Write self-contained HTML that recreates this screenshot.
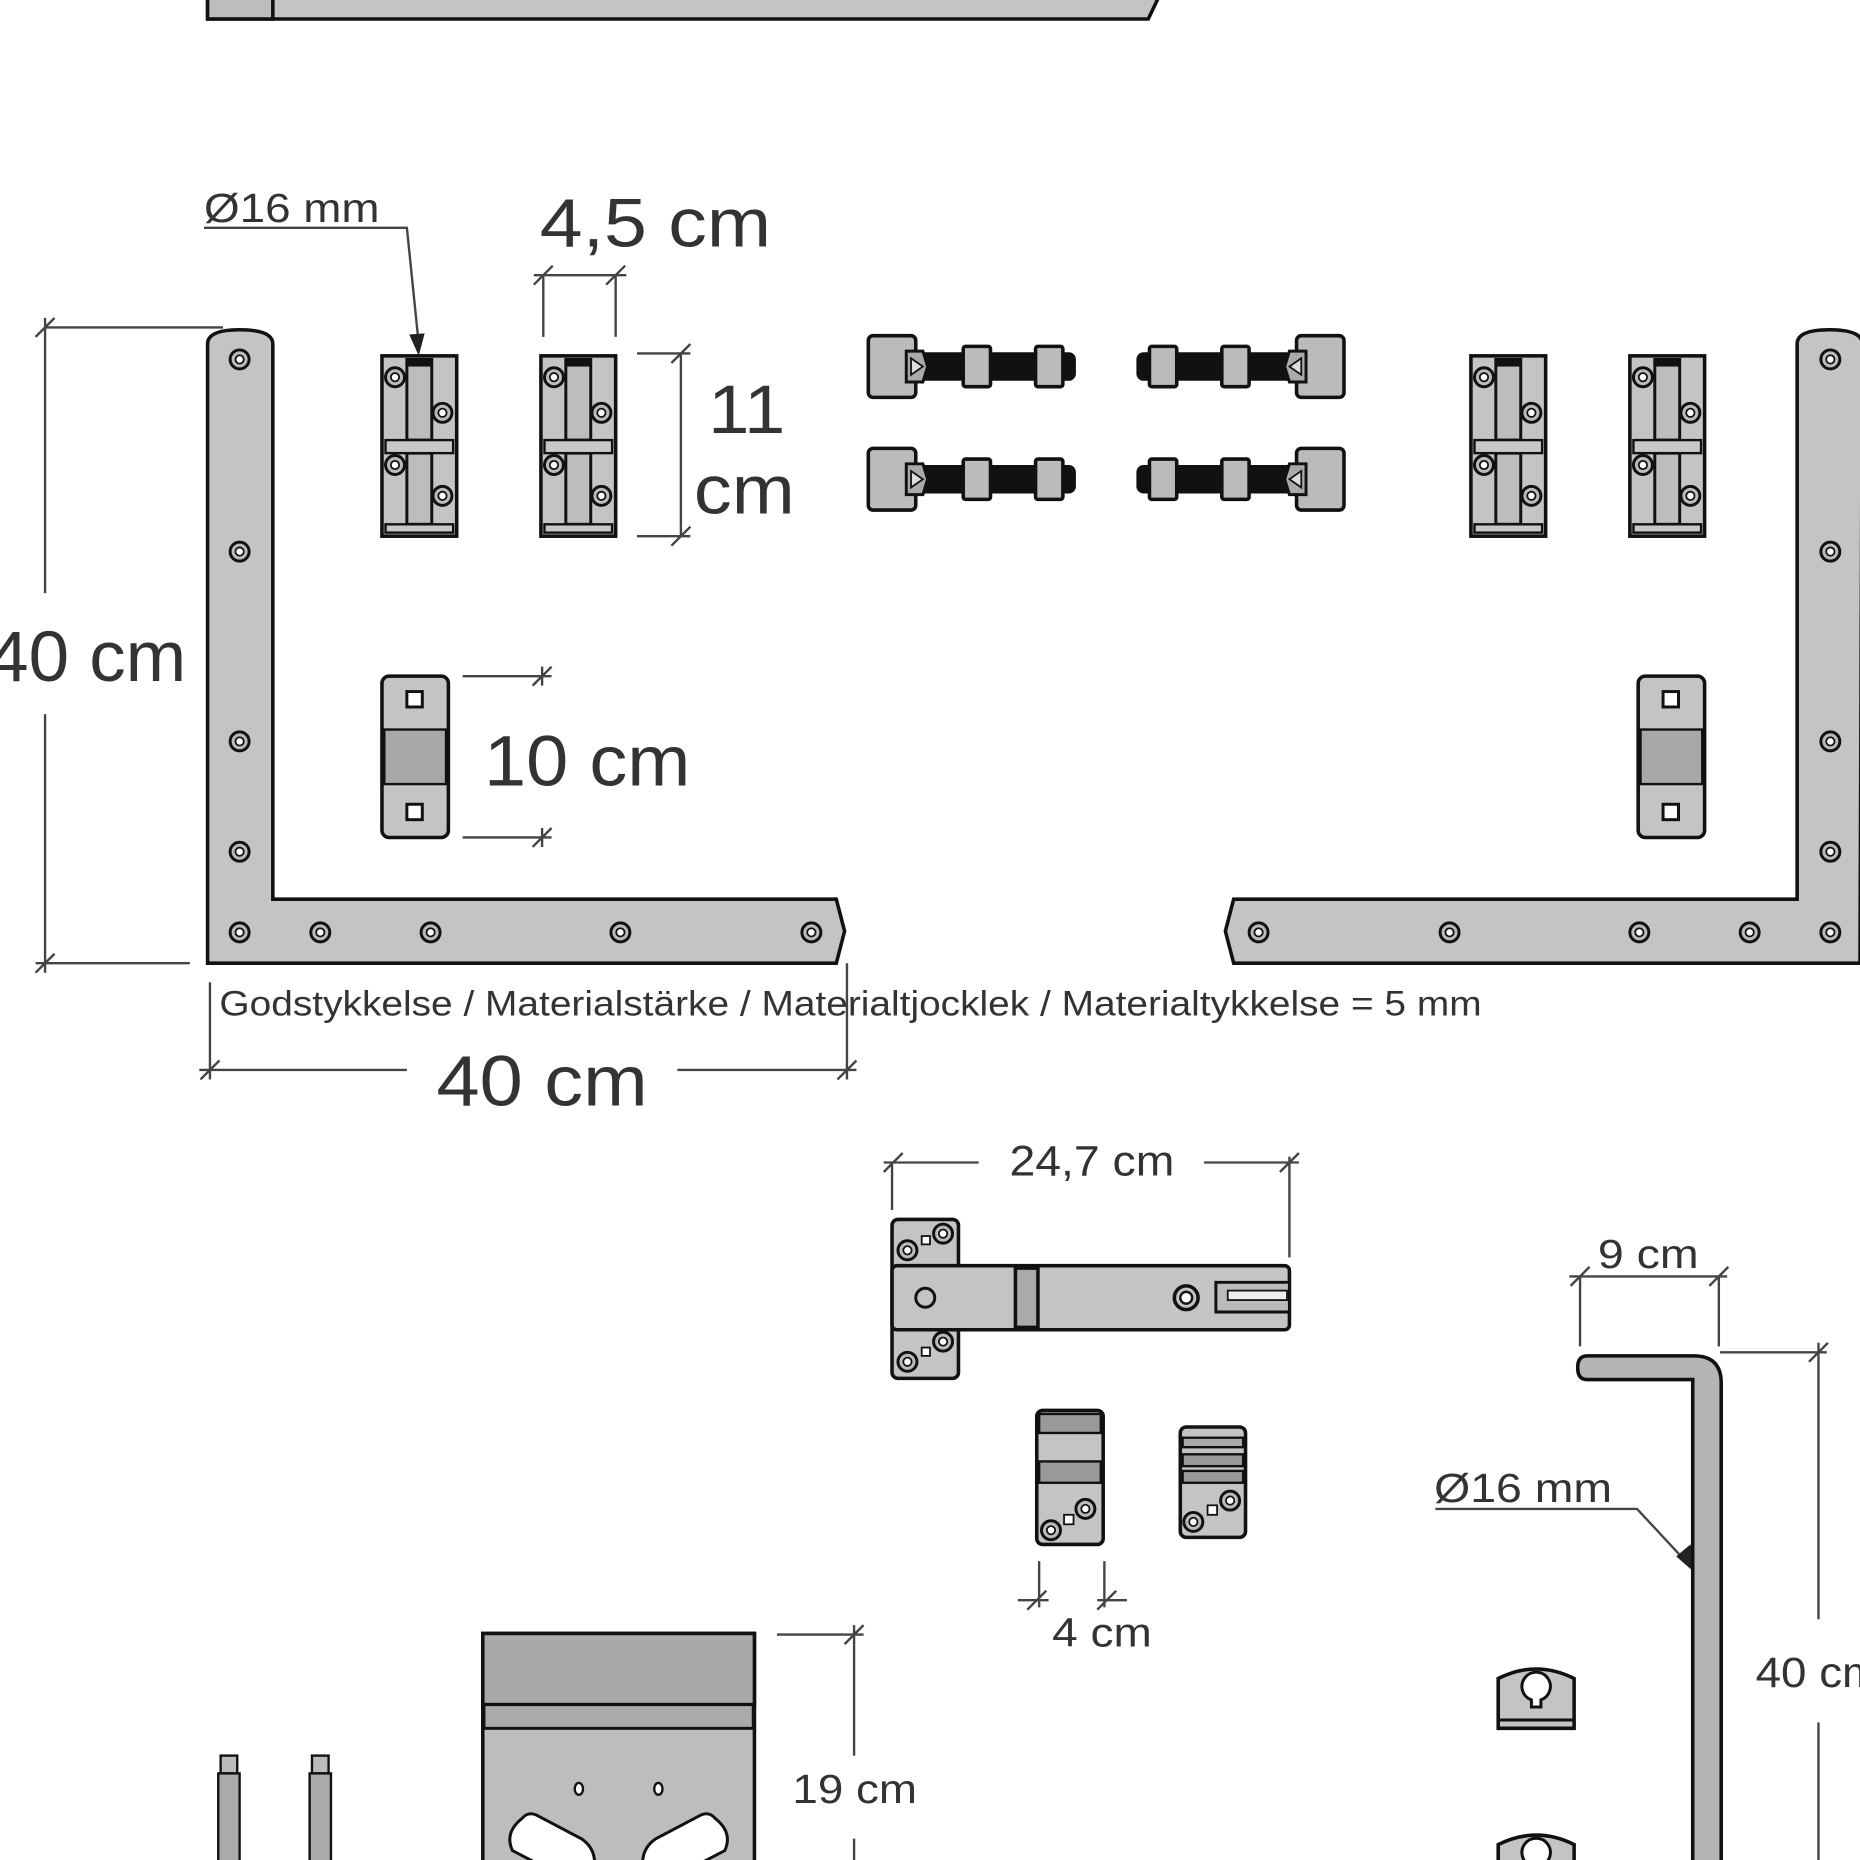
<!DOCTYPE html>
<html><head><meta charset="utf-8"><style>
html,body{margin:0;padding:0;background:#fff;width:1860px;height:1860px;overflow:hidden}
svg{display:block}
text{font-family:"Liberation Sans",sans-serif;fill:#333}
</style></head><body>
<svg width="1860" height="1860" viewBox="0 0 1568 1568" xmlns="http://www.w3.org/2000/svg">
<defs>
<g id="scr"><circle r="8" fill="#bbb" stroke="#111" stroke-width="2.5"/><circle r="3.5" fill="#fff" stroke="#111" stroke-width="1.5"/></g>
<g id="hinge">
<rect x="0" y="0" width="63" height="152" fill="#c4c4c4" stroke="#111" stroke-width="3"/>
<rect x="21" y="3" width="21" height="68" fill="#bdbdbd" stroke="#111" stroke-width="2.5"/>
<rect x="21" y="82" width="21" height="60" fill="#bdbdbd" stroke="#111" stroke-width="2.5"/>
<rect x="21" y="3" width="21" height="6" fill="#111"/>
<rect x="3" y="71" width="57" height="11" fill="#c8c8c8" stroke="#111" stroke-width="2"/>
<rect x="3" y="142" width="57" height="7" fill="#c8c8c8" stroke="#111" stroke-width="2"/>
<use href="#scr" x="11" y="18"/><use href="#scr" x="51" y="48"/>
<use href="#scr" x="11" y="92"/><use href="#scr" x="51" y="118"/>
</g>
<g id="bolt">
<rect x="0" y="-25" width="40" height="52" rx="4" fill="#bbb" stroke="#111" stroke-width="3"/>
<rect x="40" y="-11" width="135" height="24" rx="6" fill="#111"/>
<path d="M32 -12 L46 -12 L50 1 L46 14 L32 14 Z" fill="#aaa" stroke="#111" stroke-width="2.5"/>
<path d="M36 -6 L46 1 L36 8 Z" fill="#ddd" stroke="#111" stroke-width="1.5"/>
<rect x="80" y="-16" width="23" height="34" rx="2" fill="#bbb" stroke="#111" stroke-width="3"/>
<rect x="141" y="-16" width="23" height="34" rx="2" fill="#bbb" stroke="#111" stroke-width="3"/>
</g>
<g id="strap">
<rect x="0" y="0" width="56" height="136" rx="6" fill="#c4c4c4" stroke="#111" stroke-width="3"/>
<rect x="2" y="45" width="52" height="46" fill="#a8a8a8" stroke="#111" stroke-width="2"/>
<rect x="21" y="13" width="13" height="13" fill="#fff" stroke="#111" stroke-width="2.5"/>
<rect x="21" y="108" width="13" height="13" fill="#fff" stroke="#111" stroke-width="2.5"/>
</g>
<g id="key">
<path d="M0 10 Q32 -6 64 10 L64 52 L0 52 Z" fill="#c4c4c4" stroke="#111" stroke-width="3"/>
<line x1="0" y1="45" x2="64" y2="45" stroke="#111" stroke-width="2.5"/>
<path d="M28 34 L28 28 A12 12 0 1 1 36 28 L36 34 Z" fill="#fff" stroke="#111" stroke-width="2.5"/>
</g>
</defs>

<g stroke="#111" stroke-width="3" fill="#c4c4c4">
<path d="M175 -5 L978 -5 L968 16 L175 16 Z"/>
<rect x="175" y="-5" width="55" height="21" fill="#bdbdbd"/>
<path d="M175 290 Q175 278 202 278 Q230 278 230 290 L230 758 L705 758 L712 785 L705 812 L175 812 Z"/>
<path d="M1568 812 L1040 812 L1033 785 L1040 758 L1515 758 L1515 290 Q1515 278 1542 278 Q1570 278 1570 290 Z"/>
</g>
<g>
<use href="#scr" x="202" y="303"/><use href="#scr" x="202" y="465"/><use href="#scr" x="202" y="625"/><use href="#scr" x="202" y="718"/>
<use href="#scr" x="202" y="786"/><use href="#scr" x="270" y="786"/><use href="#scr" x="363" y="786"/><use href="#scr" x="523" y="786"/><use href="#scr" x="684" y="786"/>
<use href="#scr" x="1543" y="303"/><use href="#scr" x="1543" y="465"/><use href="#scr" x="1543" y="625"/><use href="#scr" x="1543" y="718"/>
<use href="#scr" x="1543" y="786"/><use href="#scr" x="1475" y="786"/><use href="#scr" x="1382" y="786"/><use href="#scr" x="1222" y="786"/><use href="#scr" x="1061" y="786"/>
</g>
<use href="#hinge" x="322" y="300"/><use href="#hinge" x="456" y="300"/>
<use href="#hinge" x="1240" y="300"/><use href="#hinge" x="1374" y="300"/>
<use href="#bolt" x="732" y="308"/><use href="#bolt" x="732" y="403"/>
<use href="#bolt" transform="translate(1133,308) scale(-1,1)"/><use href="#bolt" transform="translate(1133,403) scale(-1,1)"/>
<use href="#strap" x="322" y="570"/><use href="#strap" x="1381" y="570"/>

<g stroke="#444" stroke-width="2" fill="none">
<path d="M172 192 L343 192 L353 290"/>
<path d="M458 232 L458 284 M519 232 L519 284 M450 232 L528 232 M450 240 L466 224 M511 240 L527 224"/>
<path d="M537 298 L582 298 M537 452 L582 452 M574 298 L574 452 M566 306 L582 290 M566 460 L582 444"/>
<path d="M38 276 L188 276 M30 812 L160 812 M38 268 L38 500 M38 602 L38 820 M30 284 L46 268 M30 820 L46 804"/>
<path d="M390 570 L465 570 M390 706 L465 706 M457 562 L457 578 M457 698 L457 714 M449 578 L465 562 M449 714 L465 698"/>
<path d="M177 828 L177 910 M714 812 L714 910 M168 902 L343 902 M571 902 L722 902 M169 910 L185 894 M706 910 L722 894"/>
<path d="M752 980 L752 1020 M1087 975 L1087 1060 M745 980 L825 980 M1015 980 L1095 980 M745 988 L761 972 M1079 988 L1095 972"/>
<path d="M1332 1075 L1332 1135 M1449 1075 L1449 1135 M1323 1076 L1456 1076 M1324 1084 L1340 1068 M1441 1084 L1457 1068"/>
<path d="M1450 1140 L1540 1140 M1533 1132 L1533 1365 M1533 1452 L1533 1568 M1525 1148 L1541 1132"/>
<path d="M876 1316 L876 1355 M931 1316 L931 1355 M858 1349 L884 1349 M925 1349 L950 1349 M866 1357 L882 1341 M925 1357 L941 1341"/>
<path d="M1210 1272 L1380 1272 L1420 1315"/>
<path d="M655 1378 L728 1378 M720 1370 L720 1480 M720 1550 L720 1568 M712 1386 L728 1370"/>
</g>
<path d="M345 282 L353 300 L358 281 Z" fill="#222"/>
<path d="M1413 1312 L1437 1333 L1425 1302 Z" fill="#222"/>

<g stroke="#111" stroke-width="3" fill="#c4c4c4">
<rect x="752" y="1028" width="56" height="134" rx="5"/>
<rect x="752" y="1067" width="335" height="54" rx="4"/>
<rect x="856" y="1069" width="19" height="50" fill="#aaa"/>
<circle cx="780" cy="1094" r="8" fill="#c4c4c4" stroke-width="2.5"/>
<circle cx="1000" cy="1094" r="10" fill="#c4c4c4"/>
<circle cx="1000" cy="1094" r="5" fill="#fff" stroke-width="2"/>
<path d="M1025 1081 L1087 1081 L1087 1106 L1025 1106 Z" fill="#bbb" stroke-width="2.5"/>
<rect x="1035" y="1088" width="50" height="8" fill="#eee" stroke-width="1.5"/>
</g>
<use href="#scr" x="765" y="1054"/><use href="#scr" x="795" y="1040"/>
<use href="#scr" x="765" y="1148"/><use href="#scr" x="795" y="1131"/>
<rect x="777" y="1042" width="7" height="7" fill="#fff" stroke="#111" stroke-width="1.5"/>
<rect x="777" y="1136" width="7" height="7" fill="#fff" stroke="#111" stroke-width="1.5"/>

<g stroke="#111" stroke-width="3" fill="#c4c4c4">
<rect x="874" y="1189" width="56" height="113" rx="5"/>
<rect x="876" y="1192" width="52" height="16" fill="#999" stroke-width="2"/>
<rect x="876" y="1232" width="52" height="18" fill="#999" stroke-width="2"/>
<rect x="995" y="1203" width="55" height="93" rx="5"/>
<rect x="997" y="1212" width="51" height="8" fill="#aaa" stroke-width="2"/>
<rect x="997" y="1226" width="51" height="10" fill="#999" stroke-width="2"/>
<rect x="997" y="1240" width="51" height="10" fill="#999" stroke-width="2"/>
</g>
<use href="#scr" x="886" y="1290"/><use href="#scr" x="915" y="1272"/>
<use href="#scr" x="1006" y="1283"/><use href="#scr" x="1037" y="1265"/>
<rect x="897" y="1277" width="8" height="8" fill="#fff" stroke="#111" stroke-width="1.5"/>
<rect x="1018" y="1269" width="8" height="8" fill="#fff" stroke="#111" stroke-width="1.5"/>

<path d="M1338 1143 L1428 1143 Q1451 1143 1451 1166 L1451 1570 L1427 1570 L1427 1163 L1338 1163 Q1330 1163 1330 1153 Q1330 1143 1338 1143 Z" fill="#b5b5b5" stroke="#111" stroke-width="3"/>
<use href="#key" x="1263" y="1405"/><use href="#key" x="1263" y="1545"/>

<g stroke="#111" stroke-width="3">
<rect x="407" y="1377" width="229" height="200" fill="#bdbdbd"/>
<rect x="407" y="1377" width="229" height="60" fill="#a9a9a9"/>
<rect x="408" y="1437" width="227" height="20" fill="#aaa" stroke-width="2.5"/>
<ellipse cx="488" cy="1508" rx="3.5" ry="5" fill="#fff" stroke-width="2"/>
<ellipse cx="555" cy="1508" rx="3.5" ry="5" fill="#fff" stroke-width="2"/>
<path d="M440 1533 Q425 1545 432 1560 L470 1580 L500 1580 Q505 1560 490 1550 L452 1530 Q445 1527 440 1533 Z" fill="#fff" stroke-width="2.5"/>
<path d="M603 1533 Q618 1545 611 1560 L573 1580 L543 1580 Q538 1560 553 1550 L591 1530 Q598 1527 603 1533 Z" fill="#fff" stroke-width="2.5"/>
<rect x="186" y="1480" width="14" height="15" fill="#bbb" stroke-width="2"/>
<rect x="184" y="1495" width="18" height="80" fill="#aaa" stroke-width="2"/>
<rect x="263" y="1480" width="14" height="15" fill="#bbb" stroke-width="2"/>
<rect x="261" y="1495" width="18" height="80" fill="#aaa" stroke-width="2"/>
</g>

<g>
<text x="172" y="187" font-size="34" textLength="148" lengthAdjust="spacingAndGlyphs">Ø16 mm</text>
<text x="455" y="208" font-size="58" textLength="195" lengthAdjust="spacingAndGlyphs">4,5 cm</text>
<text x="597" y="365" font-size="58" textLength="65" lengthAdjust="spacingAndGlyphs">11</text>
<text x="585" y="433" font-size="58" textLength="85" lengthAdjust="spacingAndGlyphs">cm</text>
<text x="-10" y="574" font-size="60" textLength="167" lengthAdjust="spacingAndGlyphs">40 cm</text>
<text x="408" y="662" font-size="60" textLength="174" lengthAdjust="spacingAndGlyphs">10 cm</text>
<text x="185" y="856" font-size="30" textLength="1064" lengthAdjust="spacingAndGlyphs">Godstykkelse / Materialstärke / Materialtjocklek / Materialtykkelse = 5 mm</text>
<text x="368" y="932" font-size="60" textLength="178" lengthAdjust="spacingAndGlyphs">40 cm</text>
<text x="851" y="991" font-size="36" textLength="139" lengthAdjust="spacingAndGlyphs">24,7 cm</text>
<text x="1347" y="1069" font-size="34" textLength="85" lengthAdjust="spacingAndGlyphs">9 cm</text>
<text x="1209" y="1266" font-size="34" textLength="150" lengthAdjust="spacingAndGlyphs">Ø16 mm</text>
<text x="887" y="1388" font-size="34" textLength="84" lengthAdjust="spacingAndGlyphs">4 cm</text>
<text x="1480" y="1422" font-size="36" textLength="105" lengthAdjust="spacingAndGlyphs">40 cm</text>
<text x="668" y="1520" font-size="34" textLength="105" lengthAdjust="spacingAndGlyphs">19 cm</text>
</g>
</svg>
</body></html>
